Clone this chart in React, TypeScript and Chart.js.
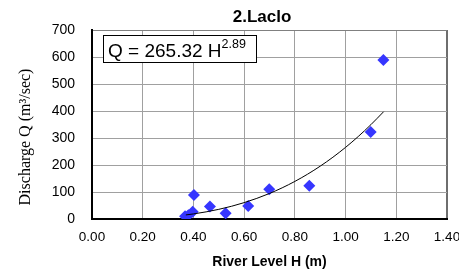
import React, { useEffect, useRef } from "react";
import { Chart, registerables } from "chart.js";
Chart.register(...registerables);

// Observed data (river level H in m, discharge Q in m3/sec)
const riverLevel = [0.367, 0.38, 0.397, 0.402, 0.465, 0.527, 0.616, 0.699, 0.857, 1.099, 1.149];
const discharge = [10, 14, 27, 89, 46, 21, 48, 110, 123, 322, 589];

// Power trendline points (Q = 265.32 H^2.89)
const trendLevel = [0.37, 0.4, 0.45, 0.5, 0.55, 0.6, 0.65, 0.7, 0.75, 0.8, 0.85, 0.9, 0.95, 1.0, 1.05, 1.1, 1.15];
const trendDischarge = [15.0, 18.8, 26.4, 35.8, 47.1, 60.6, 76.4, 94.6, 115.5, 139.2, 165.9, 195.7, 228.8, 265.3, 305.5, 349.5, 397.3];

const xTickValues = [0, 0.2, 0.4, 0.6, 0.8, 1.0, 1.2, 1.4];
const yTickValues = [0, 100, 200, 300, 400, 500, 600, 700];

const chartTitle = "2.Laclo";
const xAxisTitle = "River Level H (m)";
const yAxisTitle = "Discharge Q (m\u00b3/sec)";
const equationMain = "Q = 265.32 H";
const equationExp = "2.89";

const overlayPlugin = {
  id: "overlayText",
  afterDraw(chart: any) {
    const { ctx, chartArea } = chart;
    ctx.save();
    ctx.fillStyle = "#000";
    // title
    ctx.font = 'bold 17px "Liberation Sans", Arial, sans-serif';
    ctx.textAlign = "center";
    ctx.textBaseline = "middle";
    ctx.fillText(chartTitle, (chartArea.left + chartArea.right) / 2 - 7.5, 17);

    // equation box
    const bx = chartArea.left + 11;
    const by = chartArea.top + 5;
    const bw = 153;
    const bh = 27;
    ctx.fillStyle = "#fff";
    ctx.fillRect(bx, by, bw, bh);
    ctx.strokeStyle = "#000";
    ctx.lineWidth = 1;
    ctx.strokeRect(bx + 0.5, by + 0.5, bw, bh);
    ctx.fillStyle = "#000";
    ctx.textAlign = "left";
    ctx.textBaseline = "alphabetic";
    ctx.font = '19px "Liberation Sans", Arial, sans-serif';
    ctx.fillText(equationMain, bx + 5, by + 22);
    const w = ctx.measureText(equationMain).width;
    ctx.font = '12.5px "Liberation Sans", Arial, sans-serif';
    ctx.fillText(equationExp, bx + 5 + w, by + 13);

    // y axis title
    ctx.translate(26, 137);
    ctx.rotate(-Math.PI / 2);
    ctx.font = '16px "Liberation Serif", "Times New Roman", serif';
    ctx.textAlign = "center";
    ctx.textBaseline = "middle";
    ctx.fillText(yAxisTitle, 0, 0);
    ctx.restore();
  },
};

export default function App() {
  const canvasRef = useRef<HTMLCanvasElement | null>(null);

  useEffect(() => {
    if (!canvasRef.current) return;
    const points = riverLevel.map((x, i) => ({ x, y: discharge[i] }));
    const trend = trendLevel.map((x, i) => ({ x, y: trendDischarge[i] }));
    const chart = new Chart(canvasRef.current, {
      type: "scatter",
      data: {
        datasets: [
          {
            label: "Trend",
            data: trend,
            showLine: true,
            borderColor: "#000",
            borderWidth: 1,
            pointRadius: 0,
            cubicInterpolationMode: "monotone",
            order: 0,
          } as any,
          {
            label: "Observed",
            data: points,
            pointStyle: "rectRot",
            pointRadius: 6,
            backgroundColor: "#3636ff",
            borderColor: "#3636ff",
            borderWidth: 0,
            order: 1,
          } as any,
        ],
      },
      options: {
        responsive: false,
        animation: false,
        layout: { padding: { left: 0, right: 12, top: 30, bottom: 0 } },
        plugins: {
          legend: { display: false },
          tooltip: { enabled: false },
          title: { display: false },
        },
        scales: {
          x: {
            type: "linear",
            min: 0,
            max: 1.4,
            afterBuildTicks: (scale: any) => {
              scale.ticks = xTickValues.map((v) => ({ value: v }));
            },
            afterFit: (scale: any) => {
              scale.height = 54;
              scale.paddingRight = 0;
              scale.paddingLeft = 0;
            },
            ticks: {
              padding: 10,
              color: "#000",
              font: { family: '"Liberation Sans", Arial, sans-serif', size: 13.5 },
              callback: (v: any) => Number(v).toFixed(2),
            },
            grid: {
              drawTicks: false,
              color: (c: any) => (c.tick && Math.abs(c.tick.value - 1.4) < 1e-6 ? "#6e6e6e" : "#a0a0a0"),
              lineWidth: (c: any) => (c.tick && Math.abs(c.tick.value - 1.4) < 1e-6 ? 2 : 1),
            },
            border: { color: "#000", width: 2 },
            title: {
              display: true,
              text: xAxisTitle,
              color: "#000",
              font: { family: '"Liberation Sans", Arial, sans-serif', size: 14, weight: "bold" },
              padding: { top: 0, bottom: 2 },
            },
          },
          y: {
            type: "linear",
            min: 0,
            max: 700,
            afterBuildTicks: (scale: any) => {
              scale.ticks = yTickValues.map((v) => ({ value: v }));
            },
            afterFit: (scale: any) => {
              scale.width = 92;
            },
            ticks: {
              padding: 17,
              color: "#000",
              font: { family: '"Liberation Sans", Arial, sans-serif', size: 14 },
            },
            grid: {
              drawTicks: false,
              color: (c: any) => (c.tick && c.tick.value === 700 ? "#808080" : "#a0a0a0"),
              lineWidth: 1,
            },
            border: { color: "#000", width: 2 },
          },
        },
      },
      plugins: [overlayPlugin],
    });
    return () => chart.destroy();
  }, []);

  return (
    <div style={{ position: "absolute", left: 0, top: 0, width: 459, height: 273, background: "#fff" }}>
      <canvas ref={canvasRef} width={459} height={273} style={{ display: "block" }} />
    </div>
  );
}
